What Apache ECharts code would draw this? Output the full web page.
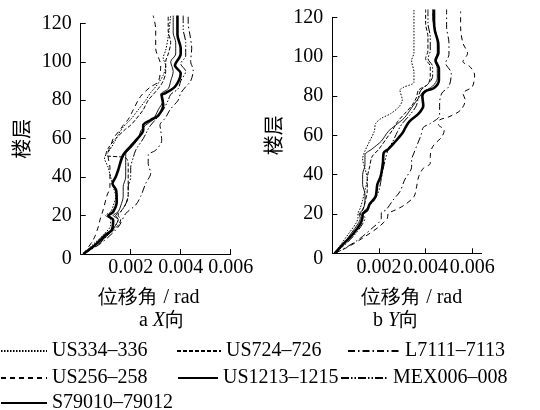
<!DOCTYPE html>
<html><head><meta charset="utf-8">
<script src="https://cdn.jsdelivr.net/npm/echarts@6/dist/echarts.min.js"></script>
<style>html,body{margin:0;padding:0;background:#fff}#c{width:540px;height:410px}</style>
</head><body><div id="c"></div>
<script>
// ---- tick labels ----
const xTickValues = [0.002, 0.004, 0.006];
const yMin = 0, yMax = 120, yStep = 20;

// ---- series names (legend order) ----
const seriesNames = ['US334–336', 'US724–726', 'L7111–7113', 'US256–258', 'US1213–1215', 'MEX006–008', 'S79010–79012'];

// ---- a: X direction, pairs [drift rad, floor] ----
const xUS334 = [[0.0001,0],[0.0005,5],[0.0009,10],[0.0012,15],[0.0012,18],[0.001,20],[0.0012,22],[0.0013,25],[0.0014,30],[0.0013,35],[0.0012,40],[0.0011,45],[0.00095,50],[0.0011,53],[0.0013,57],[0.0015,62],[0.0017,66],[0.002,70],[0.0023,75],[0.0026,80],[0.0028,84],[0.003,87],[0.0033,93],[0.0034,98],[0.0033,102],[0.0034,106],[0.0035,113],[0.0036,124]];
const xUS724 = [[0.0001,0],[0.0006,5],[0.0011,10],[0.0015,15],[0.0016,18],[0.0015,20],[0.0016,22],[0.0018,26],[0.0019,31],[0.0019,36],[0.0019,42],[0.0019,47],[0.0018,50],[0.001,51.5],[0.0011,55],[0.0014,60],[0.0018,65],[0.002,67],[0.0022,70],[0.0025,75],[0.0027,80],[0.0029,83],[0.0031,86],[0.0033,90],[0.0034,95],[0.0034,100],[0.0035,104],[0.0036,110],[0.0035,116],[0.0035,124]];
const xL7111 = [[0.0001,0],[0.0008,5.5],[0.0015,14],[0.0018,21],[0.0022,25.5],[0.0024,30],[0.0026,36.7],[0.0028,42],[0.0027,47],[0.0027,51.5],[0.003,54],[0.00324,59],[0.0032,64.5],[0.00317,67],[0.0034,71],[0.00357,75],[0.0039,80],[0.004,83.6],[0.0042,87],[0.0044,90],[0.0045,95.7],[0.0044,100],[0.00444,107],[0.00437,114],[0.0043,120],[0.0043,124]];
const xUS256 = [[0.0001,0],[0.0005,7.3],[0.0007,14],[0.00077,17.7],[0.0009,23],[0.00104,30],[0.00117,35],[0.00117,45],[0.0011,50.6],[0.0011,53],[0.0012,56],[0.0013,60],[0.0016,65],[0.0017,67],[0.0019,70],[0.0021,75],[0.0023,80],[0.00244,82.7],[0.0028,87],[0.0031,89.6],[0.0032,98],[0.003,107],[0.003,117],[0.0029,124]];
const xUS1213 = [[0.0001,0],[0.0006,5],[0.001,10],[0.00124,12.5],[0.0013,17.7],[0.0011,19.8],[0.0013,22],[0.00144,27],[0.00142,33],[0.00127,36.7],[0.0014,40],[0.0015,43.7],[0.0017,51.5],[0.0021,57.5],[0.00244,62.7],[0.0025,64.5],[0.0025,67],[0.0028,69.7],[0.0031,72],[0.0033,77.5],[0.00324,82.7],[0.00337,83.6],[0.00377,87],[0.004,94],[0.00377,98],[0.004,104],[0.004,107],[0.00387,114],[0.00387,124]];
const xMEX006 = [[0.0001,0],[0.0007,5],[0.0011,10],[0.0014,15],[0.0015,18],[0.0014,20],[0.0016,22],[0.0018,26],[0.0019,30],[0.0019,35],[0.002,40],[0.002,45],[0.0021,50],[0.0022,54],[0.0025,60],[0.0027,65],[0.0028,67],[0.003,70],[0.0033,75],[0.0035,80],[0.0036,83],[0.0039,86],[0.004,90],[0.0042,95],[0.004,99],[0.0042,103],[0.0042,110],[0.0041,117],[0.0041,124]];
const xS79010 = [[0.0001,0],[0.0006,5],[0.0011,10],[0.0014,15],[0.0015,18],[0.0013,20],[0.0015,22],[0.0016,25],[0.0017,30],[0.0017,35],[0.0018,40],[0.0018,46],[0.0018,52],[0.002,55],[0.0023,60],[0.0024,64],[0.0026,67],[0.0029,70],[0.0031,75],[0.0033,80],[0.0032,83],[0.0035,86],[0.0036,90],[0.0037,95],[0.0036,100],[0.0038,104],[0.0038,110],[0.0037,115],[0.0037,124]];

// ---- b: Y direction, pairs [drift rad, floor] ----
const yUS334 = [[0.0001,0],[0.0004,5],[0.0007,10],[0.001,15],[0.0011,18],[0.0011,20],[0.0012,23],[0.0013,27],[0.0014,32],[0.0015,38],[0.0014,43],[0.0013,48],[0.0014,52],[0.0016,57],[0.0018,62],[0.00186,66],[0.0021,68.6],[0.0025,71],[0.00286,74.5],[0.003,78],[0.0029,83],[0.00307,84.5],[0.0035,87],[0.0035,92],[0.0034,98],[0.0035,102],[0.0035,108],[0.0035,115],[0.0035,124]];
const yUS724 = [[0.0001,0],[0.0005,5],[0.0009,10],[0.0012,15],[0.0013,18],[0.0012,20],[0.0013,22],[0.0014,26],[0.0015,32],[0.0015,38],[0.0016,44],[0.0017,49],[0.002,53],[0.0023,58],[0.0026,63],[0.0028,67],[0.0031,71],[0.0034,75],[0.0036,79],[0.0037,83],[0.0041,86],[0.0042,90],[0.0042,95],[0.004,99],[0.0041,103],[0.0041,110],[0.004,117],[0.004,124]];
const yL7111 = [[0.0001,0],[0.0004,1.7],[0.0011,6.8],[0.0017,12.7],[0.0021,17.8],[0.0021,20.7],[0.0023,22],[0.0026,27],[0.0029,31.4],[0.0031,37.3],[0.0034,44],[0.0034,47.4],[0.0035,51],[0.0036,54],[0.0038,60],[0.0039,64],[0.0042,66],[0.0046,70],[0.0046,73],[0.0046,76.4],[0.0047,81.5],[0.005,84.9],[0.0051,91.6],[0.00486,96.7],[0.005,101],[0.005,107],[0.0049,115],[0.0049,124]];
const yUS256 = [[0.0001,0],[0.0007,3.4],[0.0014,8.5],[0.002,13.5],[0.00236,17.8],[0.0024,20.3],[0.0027,22],[0.0031,24.6],[0.0035,28.8],[0.0036,33],[0.0037,38.9],[0.0039,43.2],[0.0042,45.7],[0.0042,49.1],[0.0043,54.2],[0.0047,59.3],[0.0048,62.7],[0.00455,65.5],[0.0046,67.8],[0.005,69.4],[0.0055,72.8],[0.0057,77.9],[0.0056,81.3],[0.006,84.7],[0.0061,90.6],[0.0059,94.9],[0.0056,97.5],[0.0058,101.7],[0.0056,106.8],[0.0055,115],[0.0055,123]];
const yUS1213 = [[0.0001,0],[0.0005,5],[0.0009,10],[0.0012,15],[0.00129,18],[0.0013,20],[0.0015,22],[0.0016,25],[0.00186,29],[0.00193,35],[0.00207,39],[0.00217,46],[0.0022,51],[0.0024,53],[0.00264,56],[0.003,61],[0.00314,64],[0.0033,67],[0.0037,71],[0.0039,75],[0.00386,80],[0.004,82.5],[0.00436,84],[0.00457,88],[0.00457,94],[0.00443,98],[0.00455,102],[0.00454,107],[0.0044,113],[0.00436,118],[0.00436,124]];
const yMEX006 = [[0.0001,0],[0.0006,5],[0.001,10],[0.0013,15],[0.0014,18],[0.0013,20],[0.0015,23],[0.0018,27],[0.002,32],[0.0021,38],[0.0022,44],[0.0023,49],[0.0024,53],[0.0026,57],[0.0028,62],[0.003,66],[0.0033,70],[0.0036,75],[0.0037,80],[0.0038,83],[0.0041,86],[0.0043,90],[0.0043,95],[0.0041,99],[0.0042,103],[0.0042,110],[0.0041,117],[0.0041,124]];
const yS79010 = [[0.0001,0],[0.0005,5],[0.0008,10],[0.0011,15],[0.0012,18],[0.00115,20],[0.0013,22],[0.0014,26],[0.0014,30],[0.0013,35],[0.0013,40],[0.0014,45],[0.0014,50],[0.0017,53],[0.0021,57],[0.0024,62],[0.0027,65],[0.0031,69],[0.0034,74],[0.0037,79],[0.0039,82],[0.0043,85],[0.0045,89],[0.0045,94],[0.0044,98],[0.0045,102],[0.0045,108],[0.0044,114],[0.0043,120],[0.0043,124]];

const dataX = [xUS334, xUS724, xL7111, xUS256, xUS1213, xMEX006, xS79010];
const dataY = [yUS334, yUS724, yL7111, yUS256, yUS1213, yMEX006, yS79010];

// ---- styles ----
const LATIN = 'Liberation Serif';
const lineStyles = [
  {type: [1.5, 1.5], width: 1},
  {type: [4, 2], width: 1},
  {type: [7, 3, 1.5, 3], width: 1},
  {type: [5, 4], width: 1},
  {type: 'solid', width: 2.6},
  {type: [8, 2, 1.5, 2, 1.5, 2], width: 1},
  {type: 'solid', width: 0.9}
];
const legendPos = [
  {left: 0, top: 339, w: 46}, {left: 176, top: 339, w: 44}, {left: 347, top: 339, w: 52},
  {left: 0, top: 366, w: 46}, {left: 177, top: 366, w: 40}, {left: 340, top: 366, w: 47},
  {left: 0, top: 391, w: 46}
];

const chart = echarts.init(document.getElementById('c'), null, {renderer: 'canvas'});

function xAxisOf(gi, max) {
  return {
    type: 'value', gridIndex: gi, min: 0, max: max,
    axisLine: {show: true, lineStyle: {color: '#000', width: 1}},
    axisTick: {show: true, inside: true, length: 5, customValues: xTickValues, lineStyle: {color: '#000'}},
    axisLabel: {show: true, customValues: xTickValues, margin: 4, color: '#000', fontFamily: LATIN, fontSize: 20,
      formatter: v => xTickValues.some(t => Math.abs(t - v) < 1e-9) ? v.toFixed(3) : ''},
    splitLine: {show: false}
  };
}
function yAxisOf(gi) {
  return {
    type: 'value', gridIndex: gi, min: yMin, max: yMax, interval: yStep,
    axisLine: {show: true, lineStyle: {color: '#000', width: 1}},
    axisTick: {show: true, inside: true, length: 5, lineStyle: {color: '#000'}},
    axisLabel: {show: true, margin: 9, color: '#000', fontFamily: LATIN, fontSize: 20,
      formatter: v => v === 0 ? '{z|0}' : String(v),
      rich: {z: {fontFamily: LATIN, fontSize: 20, color: '#000', padding: [10, 0, 0, 0]}}},
    splitLine: {show: false},
    name: '楼层', nameLocation: 'middle', nameGap: 49, nameRotate: 90,
    nameTextStyle: {color: '#000', fontFamily: 'Noto Sans CJK SC', fontSize: 20}
  };
}

const series = [];
seriesNames.forEach((n, i) => {
  [dataX[i], dataY[i]].forEach((d, gi) => {
    series.push({
      name: n, type: 'line', xAxisIndex: gi, yAxisIndex: gi, data: d,
      symbol: 'none', showSymbol: false, smooth: 0.3, clip: false, silent: true,
      lineStyle: {color: '#000', width: lineStyles[i].width, type: lineStyles[i].type},
      itemStyle: {color: '#000'}, z: i === 4 ? 5 : 2
    });
  });
});

const legends = seriesNames.map((n, i) => ({
  data: [n], left: legendPos[i].left, top: legendPos[i].top, orient: 'horizontal',
  padding: 0, itemGap: 0, itemWidth: legendPos[i].w, itemHeight: 10, selectedMode: false,
  itemStyle: {color: 'rgba(0,0,0,0)', borderColor: 'rgba(0,0,0,0)', borderWidth: 0},
  textStyle: {color: '#000', fontFamily: LATIN, fontSize: 20, lineHeight: 24}
}));

const option = {
  backgroundColor: '#fff',
  animation: false,
  grid: [
    {left: 80.7, top: 23.3, width: 150, height: 230.7, outerBoundsMode: 'none', containLabel: false},
    {left: 332.3, top: 17.3, width: 149.3, height: 236, outerBoundsMode: 'none', containLabel: false}
  ],
  xAxis: [xAxisOf(0, 0.006), xAxisOf(1, 0.0064)],
  yAxis: [yAxisOf(0), yAxisOf(1)],
  legend: legends,
  graphic: [
    {type: 'text', x: 149, y: 298, style: {text: '位移角 / rad', fontFamily: LATIN, fontSize: 20, fill: '#000', align: 'center', verticalAlign: 'middle'}},
    {type: 'text', x: 411.7, y: 298, style: {text: '位移角 / rad', fontFamily: LATIN, fontSize: 20, fill: '#000', align: 'center', verticalAlign: 'middle'}},
    {type: 'text', x: 162, y: 321, style: {text: '{n|a }{i|X}{n|向}', align: 'center', verticalAlign: 'middle', fill: '#000',
      rich: {n: {fontFamily: LATIN, fontSize: 20, fill: '#000'}, i: {fontFamily: LATIN, fontSize: 20, fontStyle: 'italic', fill: '#000'}}}},
    {type: 'text', x: 396, y: 321, style: {text: '{n|b }{i|Y}{n|向}', align: 'center', verticalAlign: 'middle', fill: '#000',
      rich: {n: {fontFamily: LATIN, fontSize: 20, fill: '#000'}, i: {fontFamily: LATIN, fontSize: 20, fontStyle: 'italic', fill: '#000'}}}}
  ],
  series: series
};
chart.setOption(option);
</script>
</body></html>
